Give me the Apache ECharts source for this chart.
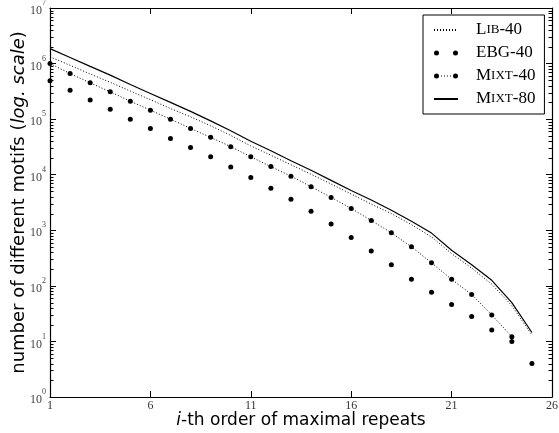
<!DOCTYPE html>
<html><head><meta charset="utf-8">
<script src="https://cdn.jsdelivr.net/npm/echarts@6/dist/echarts.min.js"></script>
<style>html,body{margin:0;padding:0;background:#fff}#c{width:559px;height:433px}</style>
</head><body><div id="c"></div>
<script>
// ---- data ----
const xOrder = [1,2,3,4,5,6,7,8,9,10,11,12,13,14,15,16,17,18,19,20,21,22,23,24,25];
const lib40  = [1.32e6, 9.3e5, 6.5e5, 4.6e5, 3.2e5, 2.24e5, 1.55e5, 1.1e5, 7.6e4, 5.1e4, 3.3e4, 2.24e4, 1.51e4, 1.02e4, 6800, 4500, 2950, 2000, 1260, 760, 380, 209, 107, 44, 13];
const ebg40  = [4.9e5, 3.3e5, 2.2e5, 1.5e5, 1.0e5, 6.8e4, 4.5e4, 3.1e4, 2.1e4, 1.38e4, 8900, 5700, 3600, 2200, 1300, 745, 426, 240, 131, 77, 46, 28, 16, 10, 4];
const mixt40 = [1.0e6, 6.6e5, 4.5e5, 3.1e5, 2.1e5, 1.45e5, 1.0e5, 6.8e4, 4.7e4, 3.2e4, 2.1e4, 1.4e4, 9400, 6100, 3900, 2470, 1500, 900, 505, 260, 131, 70, 30, 12.2];
const mixt80 = [1.86e6, 1.29e6, 8.9e5, 6.2e5, 4.2e5, 2.9e5, 2.0e5, 1.38e5, 9.3e4, 6.2e4, 4.0e4, 2.7e4, 1.78e4, 1.2e4, 7900, 5200, 3500, 2300, 1450, 890, 436, 240, 126, 50, 14.5];
const xTickLabels = [1, 6, 11, 16, 21, 26];
const yExponents = [0, 1, 2, 3, 4, 5, 6, 7];
const minorMults = [2, 3, 4, 5, 6, 7, 8, 9];

const pairs = (ys) => ys.map((v, i) => [xOrder[i], v]);
const xMin = xTickLabels[0], xMax = xTickLabels[xTickLabels.length - 1];
// log-axis minor tick values (2..9 x 10^k)
const minorTicks = [];
for (let k = 0; k < yExponents.length - 1; k++) minorMults.forEach(m => minorTicks.push(m * Math.pow(10, yExponents[k])));

const serif = '"Liberation Serif", "DejaVu Serif", serif';
const sans = '"DejaVu Sans", sans-serif';
const axisLine = { show: true, lineStyle: { color: '#000', width: 1.2 } };
const tick = { show: true, inside: true, length: 6, lineStyle: { color: '#000' } };

const legendNames = {
  'Lib-40':  '{sp|}{c|L}{s|IB}{c|-40}',
  'EBG-40':  '{sp|}{c|EBG-40}',
  'Mixt-40': '{sp|}{c|M}{s|IXT}{c|-40}',
  'Mixt-80': '{sp|}{c|M}{s|IXT}{c|-80}'
};
const circ = (cx) => `M${cx-2.5},2.5a2.5,2.5 0 1,0 5,0a2.5,2.5 0 1,0 -5,0Z`;
const dots = (xs) => xs.map(x => `M${x},2h1v1h-1Z`).join(' ');
const iconEbg = 'path://' + circ(2.5) + ' ' + circ(21.5);
const iconMixt40 = 'path://' + circ(2.5) + ' ' + circ(21.5) + ' ' + dots([7, 10, 13, 16]);
const hidden = { color: 'rgba(0,0,0,0)', borderWidth: 0 };

const chart = echarts.init(document.getElementById('c'), null, { renderer: 'canvas' });
chart.setOption({
  animation: false,
  color: ['#000'],
  grid: { left: 50, right: 7, top: 8, bottom: 36, containLabel: false, outerBoundsMode: 'none' },
  legend: {
    orient: 'vertical', left: 423, top: 15,
    padding: [6, 9, 6, 10],
    borderColor: '#000', borderWidth: 1, backgroundColor: '#fff',
    itemWidth: 24, itemHeight: 5, itemGap: 5,
    data: [
      { name: 'Lib-40', itemStyle: hidden },
      { name: 'EBG-40', icon: iconEbg },
      { name: 'Mixt-40', icon: iconMixt40 },
      { name: 'Mixt-80', itemStyle: hidden }
    ],
    formatter: (n) => legendNames[n],
    textStyle: {
      color: '#000', lineHeight: 18,
      rich: {
        sp: { width: 13 },
        c: { fontFamily: serif, fontSize: 17, color: '#000' },
        s: { fontFamily: serif, fontSize: 13, color: '#000' }
      }
    }
  },
  xAxis: [
    {
      type: 'value', min: xMin, max: xMax, interval: 5,
      position: 'bottom',
      name: '{i|i}-th order of maximal repeats', nameLocation: 'middle', nameGap: 15, nameMoveOverlap: false,
      nameTextStyle: { fontFamily: sans, fontSize: 17, color: '#000',
        rich: { i: { fontFamily: sans, fontSize: 17, fontStyle: 'italic', color: '#000' } } },
      axisLine, axisTick: tick,
      axisLabel: { fontFamily: serif, fontSize: 12, color: '#333', margin: 3 },
      splitLine: { show: false }
    },
    {
      type: 'value', min: xMin, max: xMax, interval: 5, position: 'top',
      axisLine, axisTick: tick,
      axisLabel: { show: false }, splitLine: { show: false }
    }
  ],
  yAxis: [
    {
      type: 'log', logBase: 10, min: Math.pow(10, yExponents[0]), max: Math.pow(10, yExponents[yExponents.length - 1]),
      position: 'left',
      name: 'number of different motifs ({i|log. scale})', nameLocation: 'middle', nameGap: 22, nameMoveOverlap: false,
      nameTextStyle: { fontFamily: sans, fontSize: 18, color: '#000',
        rich: { i: { fontFamily: sans, fontSize: 18, fontStyle: 'italic', color: '#000' } } },
      axisLine, axisTick: tick,
      axisLabel: {
        margin: 4,
        formatter: (v) => '{b|10}{e|' + Math.round(Math.log10(v)) + '}',
        rich: {
          b: { fontFamily: serif, fontSize: 12, color: '#444', padding: [6, 0, 0, 0] },
          e: { fontFamily: serif, fontSize: 8, color: '#444', verticalAlign: 'top' }
        }
      },
      splitLine: { show: false }, minorTick: { show: false }
    },
    {
      type: 'log', logBase: 10, min: 1, max: 1e7, position: 'right',
      axisLine, axisTick: tick,
      axisLabel: { show: false }, splitLine: { show: false }
    }
  ],
  series: [
    { name: 'Lib-40', type: 'line', data: pairs(lib40), symbol: 'none',
      lineStyle: { color: '#000', width: 1, type: [1, 2] } },
    { name: 'EBG-40', type: 'scatter', data: pairs(ebg40), symbol: 'circle', symbolSize: 5,
      itemStyle: { color: '#000', opacity: 1 } },
    { name: 'Mixt-40', type: 'line', data: pairs(mixt40), symbol: 'circle', symbolSize: 5, showSymbol: true,
      itemStyle: { color: '#000' }, lineStyle: { color: '#000', width: 1, type: [1, 2] } },
    { name: 'Mixt-80', type: 'line', data: pairs(mixt80), symbol: 'none',
      lineStyle: { color: '#000', width: 1.2 } }
  ]
});

// minor ticks of the log axis, positioned through the library's own axis scales
const xl = chart.convertToPixel({ xAxisIndex: 0 }, xMin);
const xr = chart.convertToPixel({ xAxisIndex: 0 }, xMax);
const minorGraphics = [];
minorTicks.forEach(v => {
  const y = Math.round(chart.convertToPixel({ yAxisIndex: 0 }, v)) + 0.5;
  minorGraphics.push({ type: 'line', silent: true, z: 10, shape: { x1: xl, y1: y, x2: xl + 3.5, y2: y }, style: { stroke: '#000', lineWidth: 1 } });
  minorGraphics.push({ type: 'line', silent: true, z: 10, shape: { x1: xr - 3.5, y1: y, x2: xr, y2: y }, style: { stroke: '#000', lineWidth: 1 } });
});
chart.setOption({ graphic: minorGraphics });
</script>
</body></html>
